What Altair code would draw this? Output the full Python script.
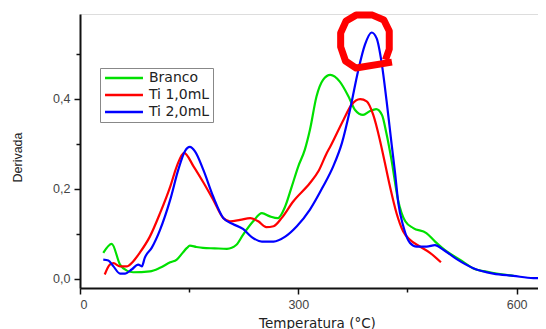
import altair as alt
import pandas as pd

series_names = ["Branco", "Ti 1,0mL", "Ti 2,0mL"]
series_colors = ["#00e000", "#ff0000", "#0000ff"]

branco_x = [32, 43.6, 55, 65, 73, 96, 110, 124, 133, 141, 147, 151, 160, 169, 185, 202, 215, 224,
            238, 250, 261, 272, 282, 291, 300, 309, 316, 325, 334, 344, 357, 369, 378, 389, 398,
            407, 415, 421, 428, 437, 447, 458, 476, 488, 504, 522, 540, 563, 596]
branco_y = [0.058, 0.078, 0.032, 0.018, 0.015, 0.017, 0.025, 0.037, 0.043, 0.058, 0.069, 0.074,
            0.071, 0.069, 0.068, 0.067, 0.076, 0.098, 0.128, 0.146, 0.139, 0.135, 0.161, 0.205,
            0.25, 0.287, 0.331, 0.405, 0.442, 0.453, 0.438, 0.405, 0.375, 0.364, 0.372, 0.377,
            0.364, 0.324, 0.265, 0.176, 0.128, 0.113, 0.102, 0.083, 0.061, 0.043, 0.024, 0.015,
            0.007]

ti1_x = [34, 41, 46, 55, 64, 73, 82, 96, 110, 124, 133, 143, 156, 170, 183, 197, 206, 220, 234,
         245, 256, 266, 277, 293, 316, 328, 339, 344, 362, 373, 385, 394, 403, 412, 418, 426, 435,
         444, 453.5, 467, 481, 496]
ti1_y = [0.010, 0.032, 0.035, 0.028, 0.028, 0.039, 0.058, 0.094, 0.146, 0.205, 0.25, 0.280, 0.25,
         0.213, 0.176, 0.135, 0.128, 0.131, 0.135, 0.128, 0.115, 0.117, 0.135, 0.172, 0.213,
         0.24, 0.279, 0.294, 0.353, 0.386, 0.399, 0.394, 0.364, 0.309, 0.265, 0.205, 0.146,
         0.106, 0.087, 0.072, 0.058, 0.037]

ti2_x = [32, 39, 46, 55, 62, 71, 80, 85, 89, 98.5, 110, 124, 135, 144, 151, 158, 169.5, 183, 197,
         210, 224, 236, 250, 266, 282, 298, 316, 334, 348, 360, 371, 382.5, 391.6, 400.8, 407.7,
         414.6, 421.4, 428.3, 433, 437.4, 444.3, 453.5, 462.7, 476.4, 487.8, 499.3, 517.7, 540.5,
         568, 595.5, 623, 640]
ti2_y = [0.043, 0.041, 0.028, 0.012, 0.012, 0.021, 0.032, 0.028, 0.047, 0.069, 0.109, 0.176, 0.242,
         0.283, 0.293, 0.283, 0.242, 0.183, 0.135, 0.122, 0.111, 0.093, 0.083, 0.083, 0.094,
         0.117, 0.154, 0.205, 0.25, 0.302, 0.375, 0.464, 0.52, 0.547, 0.534, 0.479, 0.394,
         0.298, 0.235, 0.169, 0.117, 0.08, 0.072, 0.072, 0.075, 0.065, 0.044, 0.024, 0.012,
         0.007, 0.002, 0.002]

x_ticks = [0, 150, 300, 450, 600]
y_ticks = [0, 0.1, 0.2, 0.3, 0.4, 0.5]

highlight_x = [391.6]
highlight_y = [0.528]

# hand-drawn octagon outline used to highlight the peak (unit shape)
highlight_shape = ("M1.0,0.78 L-0.33,1.0 L-0.72,0.74 L-0.90,0.22 L-0.90,-0.30 L-0.70,-0.74 "
                   "L-0.33,-0.96 L0.28,-0.96 L0.70,-0.78 L0.90,-0.37 L0.90,0.30 L0.76,0.70")

rows = []
for name, xs, ys in [(series_names[0], branco_x, branco_y),
                     (series_names[1], ti1_x, ti1_y),
                     (series_names[2], ti2_x, ti2_y)]:
    for i, (a, b) in enumerate(zip(xs, ys)):
        rows.append({"serie": name, "T": a, "D": b, "i": i})
df = pd.DataFrame(rows)
hl = pd.DataFrame({"T": highlight_x, "D": highlight_y})

xdom = [0, 629.4]
ydom = [-0.02, 0.588]

xscale = alt.Scale(domain=xdom, nice=False, zero=False)
yscale = alt.Scale(domain=ydom, nice=False, zero=False)

x_major_test = "datum.value % 300 === 0"
y_major_test = "round(datum.value * 10) % 2 === 0"

lines = alt.Chart(df).mark_line(strokeWidth=2.2, interpolate="monotone", clip=True).encode(
    x=alt.X("T:Q", scale=xscale,
            axis=alt.Axis(values=x_ticks, title="Temperatura (°C)",
                          labelExpr="datum.value % 300 === 0 ? format(datum.value, 'd') : ''",
                          labelFont="Liberation Sans", labelFontSize=12.5, labelColor="#444",
                          tickSize={"condition": {"test": x_major_test, "value": 6}, "value": 4},
                          tickWidth=1.5, tickColor="#111", labelPadding=4,
                          domainColor="#111", domainWidth=2, grid=False,
                          titleFont="DejaVu Sans", titleFontSize=13.5, titleColor="#222",
                          titleFontWeight="normal", titleX=237, titleY=28, titleBaseline="top")),
    y=alt.Y("D:Q", scale=yscale,
            axis=alt.Axis(values=y_ticks, title="Derivada",
                          labelExpr="round(datum.value * 10) % 2 === 0 ? replace(format(datum.value, '.1f'), '.', ',') : ''",
                          labelFont="Liberation Sans", labelFontSize=12.5, labelColor="#444",
                          tickSize={"condition": {"test": y_major_test, "value": 6}, "value": 4},
                          tickWidth=1.5, tickColor="#111", labelPadding=4,
                          domainColor="#111", domainWidth=2, grid=False,
                          titleFont="Liberation Sans", titleFontSize=12.5, titleColor="#222",
                          titleFontWeight="normal", titleX=-63, titleY=143,
                          titleBaseline="middle", titleAlign="center", titleAngle=270)),
    color=alt.Color("serie:N", scale=alt.Scale(domain=series_names, range=series_colors),
                    legend=alt.Legend(orient="none", legendX=20, legendY=54, title=None,
                                      symbolType="M-4,0H4", symbolSize=90, symbolOffset=14,
                                      symbolStrokeWidth=2.5, labelFont="DejaVu Sans",
                                      labelFontSize=14, labelColor="#222", strokeColor="#888",
                                      fillColor="white", padding=3, rowPadding=3,
                                      labelOffset=18)),
    order="i:Q",
)

circle = alt.Chart(hl).mark_point(shape=highlight_shape, size=2916, filled=False,
                                  stroke="#ff0000", strokeWidth=7, strokeJoin="round",
                                  opacity=1).encode(
    x=alt.X("T:Q", scale=xscale), y=alt.Y("D:Q", scale=yscale))

chart = alt.layer(lines, circle).properties(
    width=458, height=274,
    autosize=alt.AutoSizeParams(type="none"),
    padding={"left": 72, "top": 6, "right": 0, "bottom": 41},
).configure_view(stroke=None).configure(background="white")

chart.save("out.html", embed_options={"renderer": "svg", "actions": False})
